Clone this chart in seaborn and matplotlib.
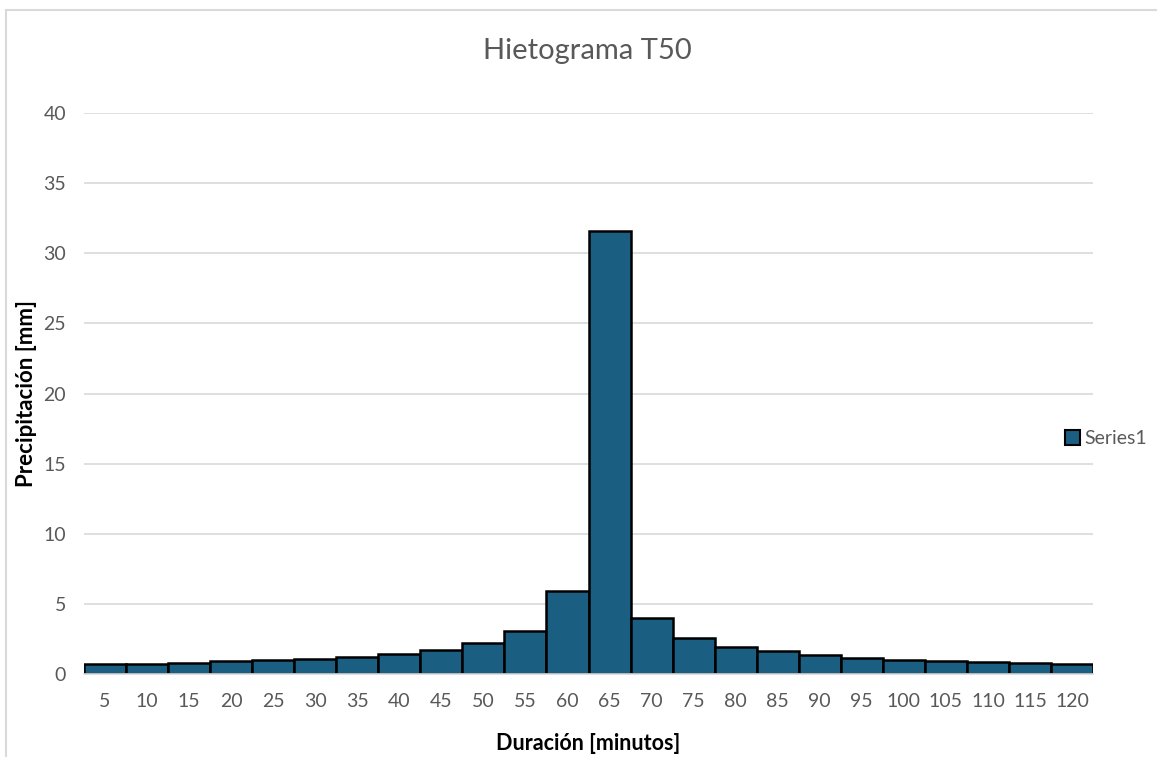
import matplotlib
matplotlib.use("Agg")
import matplotlib.pyplot as plt
import matplotlib.patches as mpatches
import seaborn as sns
import pandas as pd

duracion = [5, 10, 15, 20, 25, 30, 35, 40, 45, 50, 55, 60,
            65, 70, 75, 80, 85, 90, 95, 100, 105, 110, 115, 120]
precipitacion = [0.71, 0.71, 0.82, 0.95, 1.01, 1.09, 1.25, 1.44, 1.70, 2.20, 3.07, 5.93,
                 31.60, 4.02, 2.55, 1.93, 1.62, 1.33, 1.16, 1.02, 0.95, 0.83, 0.80, 0.72]
serie = "Series1"
titulo = "Hietograma T50"
y_ticks = [0, 5, 10, 15, 20, 25, 30, 35, 40]

df = pd.DataFrame({"Duracion": [str(d) for d in duracion], "Precipitacion": precipitacion})

sns.set_theme(style="white")
plt.rcParams["font.family"] = ["Lato", "DejaVu Sans"]

text_color = "#595959"
bar_color = "#1a5f82"

fig = plt.figure(figsize=(11.57, 7.57), dpi=100)
ax = fig.add_axes([0.0726, 0.1096, 0.8721, 0.7411])

sns.barplot(data=df, x="Duracion", y="Precipitacion", color=bar_color,
            width=1.0, edgecolor="black", linewidth=1.8, saturation=1, ax=ax)

ax.set_xlim(-0.5, len(duracion) - 0.5)
ax.set_ylim(0, 40)
ax.set_yticks(y_ticks)
ax.yaxis.grid(True, color="#d9d9d9", linewidth=1.2)
ax.set_axisbelow(True)
for s in ["top", "right", "left"]:
    ax.spines[s].set_visible(False)
ax.spines["bottom"].set_color("#d9d9d9")
ax.spines["bottom"].set_linewidth(1.2)
ax.tick_params(axis="both", length=0, labelsize=14, colors=text_color, pad=14)
ax.tick_params(axis="y", pad=13)

ax.set_xlabel("Duración [minutos]", fontsize=15.5, fontweight="bold", color="black")
ax.set_ylabel("Precipitación [mm]", fontsize=16, fontweight="bold", color="black")
ax.xaxis.set_label_coords(0.5, -0.105)
ax.yaxis.set_label_coords(-0.047, 0.5)
fig.text(0.508, 0.933, titulo, ha="center", va="center", fontsize=21, color=text_color)

handle = mpatches.Patch(facecolor=bar_color, edgecolor="black", linewidth=1.5, label=serie)
fig.legend(handles=[handle], loc="center left", bbox_to_anchor=(0.905, 0.421),
           frameon=False, fontsize=14, labelcolor=text_color,
           handlelength=0.8, handleheight=0.8, handletextpad=0.2)

# thin chart-area frame
fig.patches.append(mpatches.Rectangle((0.005, -0.05), 1.2, 1.037, transform=fig.transFigure,
                                      fill=False, edgecolor="#d9d9d9", linewidth=1.5))

fig.savefig("out.png", dpi=100)
